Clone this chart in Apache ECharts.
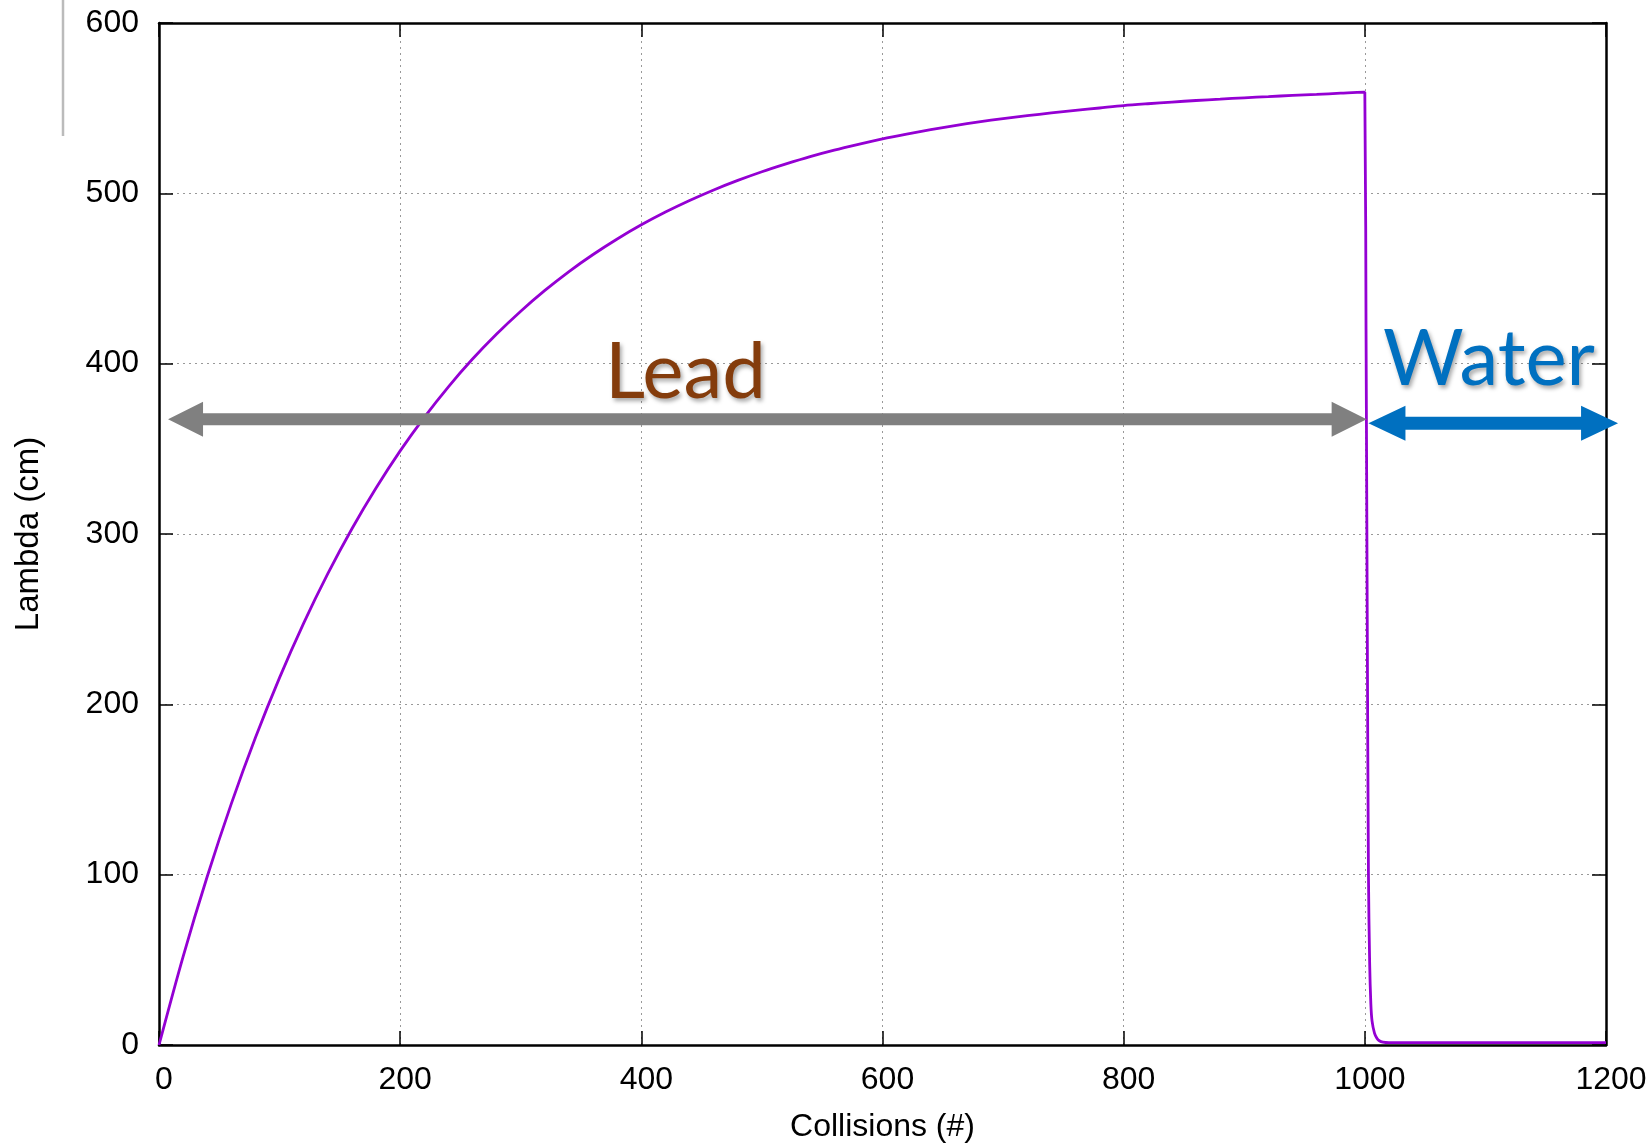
<!DOCTYPE html>
<html>
<head>
<meta charset="utf-8">
<script src="https://cdn.jsdelivr.net/npm/echarts@6/dist/echarts.min.js"></script>
<style>
  html, body { margin: 0; padding: 0; background: #fff; }
  #chart { width: 1650px; height: 1145px; }
</style>
</head>
<body>
<div id="chart"></div>
<script>
// Mean free path of the particle versus number of collisions (lead slab, then water)
const collisions = [
  0, 20, 40, 60, 80, 100, 120, 140, 160, 180,
  200, 220, 240, 260, 280, 300, 320, 340, 360, 380,
  400, 420, 440, 460, 480, 500, 520, 540, 560, 580,
  600, 620, 640, 660, 680, 700, 720, 740, 760, 780,
  800, 820, 840, 860, 880, 900, 920, 940, 960, 980,
  999, 1000, 1001, 1002, 1003, 1004, 1005, 1006, 1008, 1010,
  1012, 1015, 1020, 1050, 1100, 1150, 1200
];
const lambda = [
  0, 51.9, 98.9, 141.7, 180.5, 215.7, 247.7, 276.7, 303.1, 327.0,
  348.8, 368.5, 386.4, 402.7, 417.4, 430.8, 443.0, 454.1, 464.1, 473.2,
  481.5, 489.0, 495.8, 502.0, 507.6, 512.7, 517.3, 521.6, 525.4, 528.8,
  532.0, 534.8, 537.4, 539.8, 541.9, 543.9, 545.6, 547.2, 548.7, 550.1,
  551.5, 552.6, 553.6, 554.5, 555.3, 556.1, 556.8, 557.5, 558.1, 558.8,
  559.4, 559.4, 420, 250, 100, 48, 24, 14, 7, 4,
  2.5, 1.7, 1.4, 1.4, 1.4, 1.4, 1.4
];

// Axis ranges and tick spacing
const xRange = [0, 1200];
const xStep = 200;
const yRange = [0, 600];
const yStep = 100;

// Region annotations: label text and arrow span in data units
const regionNames = ['Lead', 'Water'];
const regionSpans = [[7.5, 1001.5], [1003, 1210]];
const regionArrowY = [367.3, 365];
const regionLabelX = [436.6, 1103];
const regionLabelY = [394.4, 402.2];

const chart = echarts.init(document.getElementById('chart'), null, { renderer: 'canvas' });

const tickFont = 'Liberation Sans, Arial, sans-serif';
const frame = { show: true, onZero: false, lineStyle: { color: '#000', width: 2.5 } };
const tickIn = { show: true, inside: true, length: 14, lineStyle: { color: '#000', width: 1.5 } };
const grid = { color: '#999', width: 1, type: [2, 4] };
const plain = (v) => String(v);

chart.setOption({
  animation: false,
  backgroundColor: '#fff',
  grid: { left: 159, right: 44, top: 23, bottom: 100, containLabel: false, outerBoundsMode: 'none' },
  xAxis: [
    {
      type: 'value', min: xRange[0], max: xRange[1], interval: xStep, position: 'bottom',
      axisLine: frame, axisTick: tickIn,
      axisLabel: { fontSize: 32, color: '#000', fontFamily: tickFont, margin: 19, padding: [0, 0, 0, 10], formatter: plain },
      splitLine: { show: true, lineStyle: grid },
      name: 'Collisions (#)', nameLocation: 'middle', nameGap: 66,
      nameTextStyle: { fontSize: 32, color: '#000', fontFamily: tickFont }
    },
    {
      type: 'value', min: xRange[0], max: xRange[1], interval: xStep, position: 'top',
      axisLine: frame, axisTick: tickIn, axisLabel: { show: false }, splitLine: { show: false }
    }
  ],
  yAxis: [
    {
      type: 'value', min: yRange[0], max: yRange[1], interval: yStep, position: 'left',
      axisLine: frame, axisTick: tickIn,
      axisLabel: { fontSize: 32, color: '#000', fontFamily: tickFont, margin: 20, formatter: plain },
      splitLine: { show: true, lineStyle: grid },
      name: 'Lambda (cm)', nameLocation: 'middle', nameGap: 114,
      nameTextStyle: { fontSize: 33, color: '#000', fontFamily: tickFont }
    },
    {
      type: 'value', min: yRange[0], max: yRange[1], interval: yStep, position: 'right',
      axisLine: frame, axisTick: tickIn, axisLabel: { show: false }, splitLine: { show: false }
    }
  ],
  series: [{
    type: 'line',
    xAxisIndex: 0, yAxisIndex: 0,
    data: collisions.map((c, i) => [c, lambda[i]]),
    showSymbol: false,
    smooth: 0.3,
    lineStyle: { color: '#9400D3', width: 2.8 },
    z: 5
  }]
});

// Double-headed arrow polygon between two pixel x positions
function arrowPoints(x1, x2, y, head, headH, shaft) {
  const h = headH / 2, t = shaft / 2;
  return [
    [x1, y], [x1 + head, y - h], [x1 + head, y - t], [x2 - head, y - t], [x2 - head, y - h],
    [x2, y], [x2 - head, y + h], [x2 - head, y + t], [x1 + head, y + t], [x1 + head, y + h]
  ];
}

const px = (x, y) => chart.convertToPixel({ xAxisIndex: 0, yAxisIndex: 0 }, [x, y]);
const colors = ['#808080', '#0070C0'];
const textColors = ['#843C0C', '#0070C0'];
const elements = [];

regionNames.forEach((name, i) => {
  const a = px(regionSpans[i][0], regionArrowY[i]);
  const b = px(regionSpans[i][1], regionArrowY[i]);
  elements.push({
    type: 'polygon', z: 100,
    shape: { points: arrowPoints(a[0], b[0], a[1], i === 0 ? 35 : 37, 35, i === 0 ? 12 : 13) },
    style: { fill: colors[i] }
  });
  const p = px(regionLabelX[i], regionLabelY[i]);
  elements.push({
    type: 'text', z: 101, x: p[0], y: p[1],
    style: {
      text: name, fill: textColors[i],
      font: '78px Lato, "Open Sans", sans-serif',
      align: 'center', verticalAlign: 'middle',
      textShadowColor: 'rgba(0,0,0,0.35)', textShadowBlur: 4,
      textShadowOffsetX: 2, textShadowOffsetY: 3
    }
  });
});

// thin grey rule in the upper-left margin
elements.push({
  type: 'line', z: 100,
  shape: { x1: 63, y1: 0, x2: 63, y2: 136 },
  style: { stroke: '#bbbbbb', lineWidth: 2.5 }
});

chart.setOption({ graphic: { elements } });
</script>
</body>
</html>
